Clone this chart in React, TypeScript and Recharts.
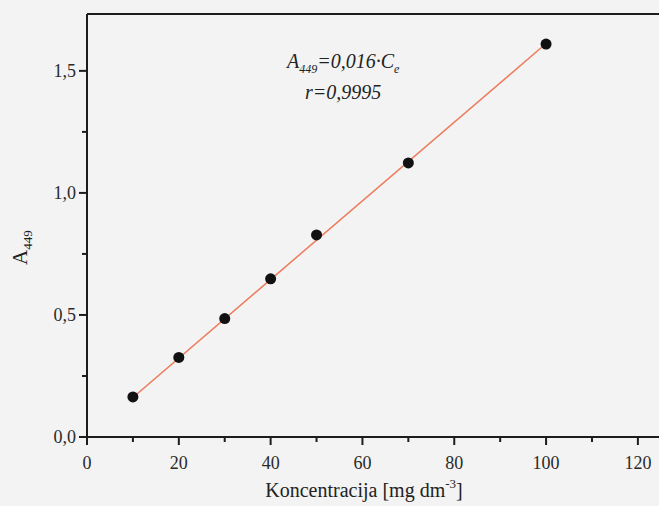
import React from 'react'
import { ComposedChart, Scatter, XAxis, YAxis, ReferenceLine, Label } from 'recharts'

// measured points: concentration [mg dm-3] vs absorbance at 449 nm
const concentration = [10, 20, 30, 40, 50, 70, 100]
const absorbance = [0.164, 0.326, 0.485, 0.648, 0.828, 1.123, 1.61]

// fitted line end points
const fitX = [10, 100]
const fitY = [0.162, 1.612]

const xTicks = [0, 10, 20, 30, 40, 50, 60, 70, 80, 90, 100, 110, 120]
const yTicks = [0, 0.25, 0.5, 0.75, 1.0, 1.25, 1.5]

const X_MAX = 124.6
const Y_MAX = 1.733

const points = concentration.map((c, i) => ({ x: c, y: absorbance[i] }))
const fit = fitX.map((c, i) => ({ x: c, y: fitY[i] }))

const FONT = "'Liberation Serif', 'Times New Roman', serif"
const INK = '#1c1c1c'

const XTick = (props: any) => {
  const { x, y, payload } = props
  const major = payload.value % 20 === 0
  return (
    <g>
      <line x1={x} x2={x} y1={y} y2={y + (major ? 8 : 5)} stroke={INK} strokeWidth={2} />
      {major && (
        <text x={x} y={y + 32} textAnchor="middle" fontFamily={FONT} fontSize={18} fill="#2a2a2a">
          {payload.value}
        </text>
      )}
    </g>
  )
}

const YTick = (props: any) => {
  const { x, y, payload } = props
  const major = Math.round(payload.value * 100) % 50 === 0
  return (
    <g>
      <line x1={x - (major ? 8 : 5)} x2={x} y1={y} y2={y} stroke={INK} strokeWidth={2} />
      {major && (
        <text x={x - 11} y={y} dy="0.35em" textAnchor="end" fontFamily={FONT} fontSize={18} fill="#2a2a2a">
          {payload.value.toFixed(1).replace('.', ',')}
        </text>
      )}
    </g>
  )
}

const Dot = (props: any) => {
  const { cx, cy } = props
  return <circle cx={cx} cy={cy} r={5.5} fill="#111" />
}

const NoDot = () => <g />

export default function App() {
  return (
    <div style={{ position: 'fixed', left: 0, top: 0, width: 659, height: 506, background: '#f2f3f2' }}>
      <ComposedChart width={659} height={506} margin={{ top: 14, right: 0, bottom: 9, left: 17 }}>
        <XAxis
          type="number"
          dataKey="x"
          domain={[0, X_MAX]}
          ticks={xTicks}
          interval={0}
          allowDataOverflow
          height={60}
          stroke={INK}
          strokeWidth={2}
          tickLine={false}
          tickSize={0}
          tickMargin={0}
          tick={<XTick />}
        >
          <Label
            content={() => (
              <text x={364} y={497} textAnchor="middle" fontFamily={FONT} fontSize={20} fill="#222">
                Koncentracija [mg dm
                <tspan fontSize={13} dy={-9}>-3</tspan>
                <tspan dy={9}>]</tspan>
              </text>
            )}
          />
        </XAxis>
        <YAxis
          type="number"
          dataKey="y"
          domain={[0, Y_MAX]}
          ticks={yTicks}
          interval={0}
          allowDataOverflow
          width={70}
          stroke={INK}
          strokeWidth={2}
          tickLine={false}
          tickSize={0}
          tickMargin={0}
          tick={<YTick />}
        >
          <Label
            content={() => (
              <text
                x={0}
                y={0}
                transform="translate(27 265) rotate(-90)"
                fontFamily={FONT}
                fontSize={21}
                fill="#222"
              >
                A<tspan fontSize={13} dy={5}>449</tspan>
              </text>
            )}
          />
        </YAxis>
        <ReferenceLine y={Y_MAX} stroke={INK} strokeWidth={2} ifOverflow="extendDomain" />
        <Scatter
          data={fit}
          line={{ stroke: '#ee7a5c', strokeWidth: 1.5 }}
          shape={<NoDot />}
          isAnimationActive={false}
        />
        <Scatter data={points} shape={<Dot />} isAnimationActive={false} />
      </ComposedChart>
      <div
        style={{
          position: 'absolute',
          left: 287,
          top: 50,
          fontFamily: FONT,
          fontStyle: 'italic',
          fontSize: 20,
          color: '#222',
          lineHeight: '23px',
          textAlign: 'center',
          whiteSpace: 'nowrap',
        }}
      >
        <div>
          A<sub style={{ fontSize: 12 }}>449</sub>=0,016·C<sub style={{ fontSize: 12 }}>e</sub>
        </div>
        <div>r=0,9995</div>
      </div>
    </div>
  )
}
